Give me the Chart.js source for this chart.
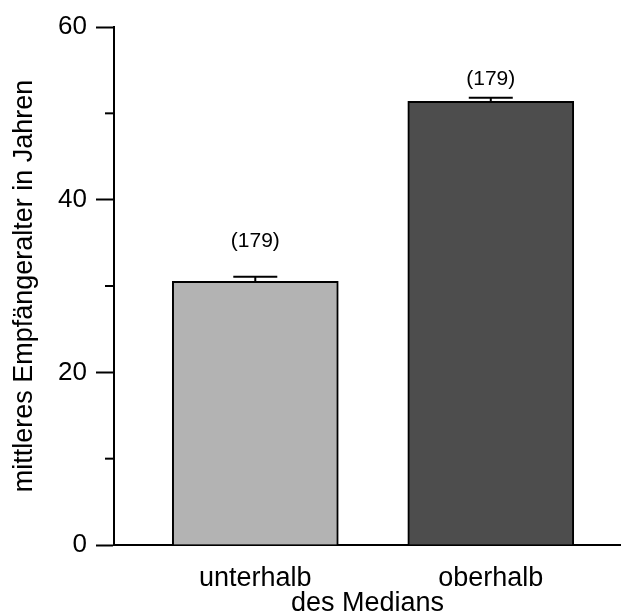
<!DOCTYPE html>
<html>
<head>
<meta charset="utf-8">
<script src="https://cdn.jsdelivr.net/npm/chart.js@4"></script>
<style>
  html, body { margin: 0; padding: 0; background: #fff; }
  #wrap { width: 621px; height: 614px; }
</style>
</head>
<body>
<div id="wrap"><canvas id="grafico"></canvas></div>
<script>
const categorias = ['unterhalb', 'oberhalb'];
const mittelwerte = [30.53, 51.4];
const fehler = [0.55, 0.4];
const anzahl = ['(179)', '(179)'];
const ticksMinor = [10, 30, 50];

const farben = ['#b3b3b3', '#4d4d4d'];
const labelAbstand = [35, 19];
const FONT = '"Liberation Sans", Arial, Helvetica, sans-serif';

// kleine Ticks + Fehlerbalken + (n)
const extras = {
    id: 'extras',
    afterDatasetsDraw(chart) {
        const { ctx, scales: { x, y } } = chart;
        ctx.save();
        ctx.strokeStyle = '#000';
        ctx.lineWidth = 2;
        ticksMinor.forEach(v => {
            const py = y.getPixelForValue(v);
            ctx.beginPath();
            ctx.moveTo(x.left - 9, py);
            ctx.lineTo(x.left, py);
            ctx.stroke();
        });
        mittelwerte.forEach((m, i) => {
            const px = x.getPixelForValue(i + 1);
            const oben = y.getPixelForValue(m + fehler[i]);
            const basis = y.getPixelForValue(m);
            ctx.beginPath();
            ctx.moveTo(px, basis);
            ctx.lineTo(px, oben);
            ctx.moveTo(px - 22, oben);
            ctx.lineTo(px + 22, oben);
            ctx.stroke();
            ctx.fillStyle = '#000';
            ctx.font = '21px ' + FONT;
            ctx.textAlign = 'center';
            ctx.textBaseline = 'middle';
            ctx.fillText(anzahl[i], px, oben - labelAbstand[i]);
        });
        ctx.restore();
    }
};

const ctx = document.getElementById('grafico').getContext('2d');
new Chart(ctx, {
    type: 'bar',
    data: {
        datasets: [{
            data: mittelwerte.map((v, i) => ({ x: i + 1, y: v })),
            backgroundColor: farben,
            borderColor: '#000',
            borderWidth: 2,
            barThickness: 166
        }]
    },
    options: {
        responsive: true,
        maintainAspectRatio: false,
        animation: false,
        devicePixelRatio: 1,
        layout: { padding: { top: 27, right: 0, bottom: 0, left: 0 } },
        plugins: { legend: { display: false }, tooltip: { enabled: false } },
        scales: {
            x: {
                type: 'linear',
                offset: false,
                min: 0.4,
                max: 2.553,
                z: 1,
                grid: { display: false, drawTicks: false, offset: false },
                border: { display: true, color: '#000', width: 2 },
                afterBuildTicks: s => { s.ticks = categorias.map((c, i) => ({ value: i + 1 })); },
                afterFit: s => { s.height = 69; },
                ticks: {
                    autoSkip: false,
                    maxRotation: 0,
                    padding: 17,
                    color: '#000',
                    font: { family: FONT, size: 27 },
                    callback: v => categorias[v - 1]
                },
                title: {
                    display: true,
                    text: 'des Medians',
                    color: '#000',
                    padding: 0,
                    font: { family: FONT, size: 27, lineHeight: 0.76 }
                }
            },
            y: {
                min: 0,
                max: 60,
                z: 1,
                grid: { display: true, drawOnChartArea: false, drawTicks: true, tickLength: 18, tickWidth: 2, tickColor: '#000' },
                border: { display: true, color: '#000', width: 2 },
                afterFit: s => { s.width = 114; },
                ticks: {
                    stepSize: 20,
                    padding: 9,
                    color: '#000',
                    font: { family: FONT, size: 26 }
                },
                title: {
                    display: true,
                    text: 'mittleres Empfängeralter in Jahren',
                    color: '#000',
                    padding: { top: 8, bottom: 0 },
                    font: { family: FONT, size: 27, lineHeight: 1.2 }
                }
            }
        }
    },
    plugins: [extras]
});
</script>
</body>
</html>
